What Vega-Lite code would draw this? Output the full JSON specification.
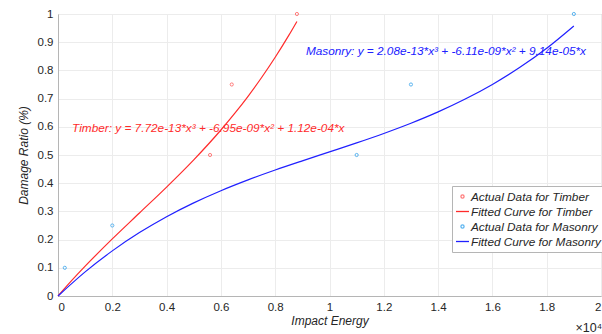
{
  "$schema": "https://vega.github.io/schema/vega-lite/v6.json",
  "width": 543,
  "height": 282,
  "autosize": {"type": "none"},
  "padding": {"left": 58, "top": 14, "right": 1, "bottom": 38},
  "background": "white",
  "config": {
    "font": "Liberation Sans",
    "view": {"stroke": "#b5b5b5", "strokeWidth": 1},
    "axis": {
      "labelFont": "Liberation Sans",
      "labelFontSize": 11.5,
      "labelColor": "#262626",
      "titleFont": "Liberation Sans",
      "titleFontSize": 12,
      "titleFontWeight": "normal",
      "titleFontStyle": "italic",
      "titleColor": "#262626",
      "domainColor": "#b5b5b5",
      "gridColor": "#ececec",
      "ticks": false
    }
  },
  "datasets": {
    "pts": [
      {"series": "Actual Data for Timber", "energy": 5600, "ratio": 0.5},
      {"series": "Actual Data for Timber", "energy": 6400, "ratio": 0.75},
      {"series": "Actual Data for Timber", "energy": 8800, "ratio": 1.0},
      {"series": "Actual Data for Masonry", "energy": 250, "ratio": 0.1},
      {"series": "Actual Data for Masonry", "energy": 2000, "ratio": 0.25},
      {"series": "Actual Data for Masonry", "energy": 11000, "ratio": 0.5},
      {"series": "Actual Data for Masonry", "energy": 13000, "ratio": 0.75},
      {"series": "Actual Data for Masonry", "energy": 19000, "ratio": 1.0}
    ],
    "fit": [
      {"series": "Fitted Curve for Timber", "energy": 0, "ratio": 0},
      {"series": "Fitted Curve for Timber", "energy": 500, "ratio": 0.0544},
      {"series": "Fitted Curve for Timber", "energy": 1000, "ratio": 0.1058},
      {"series": "Fitted Curve for Timber", "energy": 2000, "ratio": 0.2024},
      {"series": "Fitted Curve for Timber", "energy": 3000, "ratio": 0.2943},
      {"series": "Fitted Curve for Timber", "energy": 4000, "ratio": 0.3862},
      {"series": "Fitted Curve for Timber", "energy": 5000, "ratio": 0.4828},
      {"series": "Fitted Curve for Timber", "energy": 6000, "ratio": 0.5886},
      {"series": "Fitted Curve for Timber", "energy": 6500, "ratio": 0.6464},
      {"series": "Fitted Curve for Timber", "energy": 7000, "ratio": 0.7082},
      {"series": "Fitted Curve for Timber", "energy": 7500, "ratio": 0.7748},
      {"series": "Fitted Curve for Timber", "energy": 8000, "ratio": 0.8465},
      {"series": "Fitted Curve for Timber", "energy": 8500, "ratio": 0.924},
      {"series": "Fitted Curve for Timber", "energy": 8800, "ratio": 0.9735},
      {"series": "Fitted Curve for Masonry", "energy": 0, "ratio": 0},
      {"series": "Fitted Curve for Masonry", "energy": 1000, "ratio": 0.0855},
      {"series": "Fitted Curve for Masonry", "energy": 2000, "ratio": 0.16},
      {"series": "Fitted Curve for Masonry", "energy": 3000, "ratio": 0.2248},
      {"series": "Fitted Curve for Masonry", "energy": 4000, "ratio": 0.2812},
      {"series": "Fitted Curve for Masonry", "energy": 5000, "ratio": 0.3303},
      {"series": "Fitted Curve for Masonry", "energy": 6000, "ratio": 0.3734},
      {"series": "Fitted Curve for Masonry", "energy": 7000, "ratio": 0.4118},
      {"series": "Fitted Curve for Masonry", "energy": 8000, "ratio": 0.4467},
      {"series": "Fitted Curve for Masonry", "energy": 9000, "ratio": 0.4793},
      {"series": "Fitted Curve for Masonry", "energy": 10000, "ratio": 0.511},
      {"series": "Fitted Curve for Masonry", "energy": 11000, "ratio": 0.5429},
      {"series": "Fitted Curve for Masonry", "energy": 12000, "ratio": 0.5764},
      {"series": "Fitted Curve for Masonry", "energy": 13000, "ratio": 0.6126},
      {"series": "Fitted Curve for Masonry", "energy": 14000, "ratio": 0.6528},
      {"series": "Fitted Curve for Masonry", "energy": 15000, "ratio": 0.6983},
      {"series": "Fitted Curve for Masonry", "energy": 16000, "ratio": 0.7502},
      {"series": "Fitted Curve for Masonry", "energy": 17000, "ratio": 0.8099},
      {"series": "Fitted Curve for Masonry", "energy": 18000, "ratio": 0.8786},
      {"series": "Fitted Curve for Masonry", "energy": 19000, "ratio": 0.9576}
    ],
    "timberNote": [
      {"label": "Timber: y = 7.72e-13*x³ + -6.95e-09*x² + 1.12e-04*x", "energy": 520, "ratio": 0.597}
    ],
    "masonryNote": [
      {"label": "Masonry: y = 2.08e-13*x³ + -6.11e-09*x² + 9.14e-05*x", "energy": 9130, "ratio": 0.868}
    ],
    "scaleNote": [
      {"label": "×10⁴", "energy": 20000, "ratio": 0}
    ]
  },
  "encoding": {
    "x": {
      "field": "energy", "type": "quantitative",
      "scale": {"domain": [0, 20000], "nice": false},
      "axis": {"values": [0, 2000, 4000, 6000, 8000, 10000, 12000, 14000, 16000, 18000, 20000],
               "labelOverlap": false,
               "labelExpr": "format(datum.value/10000, '.1~f')",
               "title": "Impact Energy", "labelPadding": 5, "titlePadding": 3, "grid": true}
    },
    "y": {
      "field": "ratio", "type": "quantitative",
      "scale": {"domain": [0, 1], "nice": false},
      "axis": {"values": [0, 0.1, 0.2, 0.3, 0.4, 0.5, 0.6, 0.7, 0.8, 0.9, 1],
               "labelOverlap": false,
               "format": ".1~f", "title": "Damage Ratio (%)", "labelPadding": 5, "titlePadding": 7, "grid": true}
    }
  },
  "layer": [
    {
      "data": {"name": "fit"},
      "mark": {"type": "line", "interpolate": "monotone", "strokeWidth": 1.2},
      "encoding": {
        "color": {
          "field": "series", "type": "nominal",
          "scale": {
            "domain": ["Actual Data for Timber", "Fitted Curve for Timber", "Actual Data for Masonry", "Fitted Curve for Masonry"],
            "range": ["#ff7a7a", "#ff2b2b", "#5ab4f0", "#2020ff"]
          },
          "legend": {
            "title": null,
            "orient": "none",
            "legendX": 394,
            "legendY": 172,
            "labelFont": "Liberation Sans",
            "labelFontSize": 11.8,
            "labelFontStyle": "italic",
            "labelColor": "#262626",
            "strokeColor": "#b5b5b5",
            "fillColor": "white",
            "padding": 3,
            "rowPadding": 0,
            "labelOffset": 1,
            "symbolSize": 170,
            "symbolType": "stroke",
            "symbolStrokeWidth": 1.3,
            "encode": {
              "symbols": {
                "update": {
                  "shape": {"signal": "datum.label === 'Actual Data for Timber' || datum.label === 'Actual Data for Masonry' ? 'circle' : 'stroke'"},
                  "size": {"signal": "datum.label === 'Actual Data for Timber' || datum.label === 'Actual Data for Masonry' ? 10 : 170"}
                }
              }
            }
          }
        }
      }
    },
    {
      "data": {"name": "pts"},
      "mark": {"type": "point", "filled": false, "size": 10, "strokeWidth": 1, "opacity": 1},
      "encoding": {
        "color": {"field": "series", "type": "nominal"}
      }
    },
    {
      "data": {"name": "timberNote"},
      "mark": {"type": "text", "align": "left", "baseline": "middle", "font": "Liberation Sans", "fontSize": 11.8, "fontStyle": "italic", "color": "#ff2b2b"},
      "encoding": {
        "text": {"field": "label"}
      }
    },
    {
      "data": {"name": "masonryNote"},
      "mark": {"type": "text", "align": "left", "baseline": "middle", "font": "Liberation Sans", "fontSize": 11.8, "fontStyle": "italic", "color": "#2020ff"},
      "encoding": {
        "text": {"field": "label"}
      }
    },
    {
      "data": {"name": "scaleNote"},
      "mark": {"type": "text", "align": "right", "baseline": "middle", "dy": 32, "dx": 1, "font": "Liberation Sans", "fontSize": 12.5, "color": "#262626"},
      "encoding": {
        "text": {"field": "label"}
      }
    }
  ]
}
